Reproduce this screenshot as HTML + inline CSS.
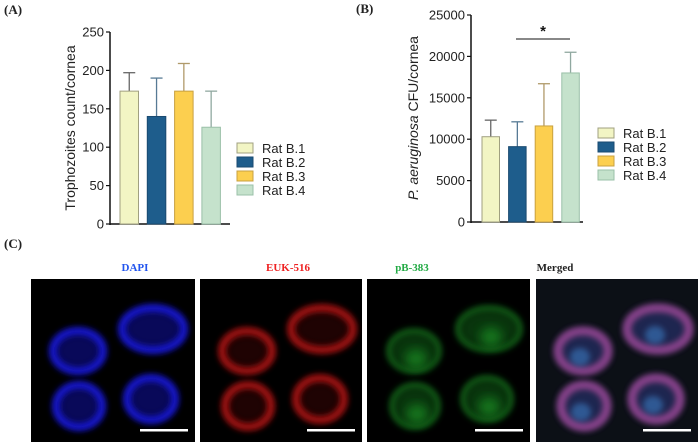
<!DOCTYPE html>
<html><head><meta charset="utf-8"><style>
body{margin:0;background:#fff;width:700px;height:442px;overflow:hidden;font-family:"Liberation Sans",sans-serif}
</style></head><body>
<svg width="700" height="442" viewBox="0 0 700 442" xmlns="http://www.w3.org/2000/svg">
<defs>
<filter id="bl" x="-30%" y="-30%" width="160%" height="160%"><feGaussianBlur stdDeviation="3"/></filter>
<filter id="bl2" x="-30%" y="-30%" width="160%" height="160%"><feGaussianBlur stdDeviation="5"/></filter>
</defs>
<g font-family="Liberation Serif, serif" font-weight="bold" font-size="13" fill="#222">
<text x="4" y="14">(A)</text>
<text x="356" y="13">(B)</text>
<text x="4" y="248">(C)</text>
</g>
<g id="chartA"></g>
<g id="chartB"></g>
<g font-family="Liberation Serif, serif" font-weight="bold" font-size="11" text-anchor="middle">
<text x="135" y="271" fill="#2255ee">DAPI</text>
<text x="288" y="271" fill="#ee2222">EUK-516</text>
<text x="412" y="271" fill="#22aa44">pB-383</text>
<text x="555" y="271" fill="#222">Merged</text>
</g>
<g id="imgs"></g>
</svg>
<script>
const catsA=["Rat B.1","Rat B.2","Rat B.3","Rat B.4"];
const meanA=[173,140,173,126];
const errA=[24,50,36,47];
const ticksA=[0,50,100,150,200,250];
const meanB=[10300,9100,11600,18000];
const errB=[2000,3000,5100,2500];
const ticksB=[0,5000,10000,15000,20000,25000];
const fills=["#f2f5c4","#1e5d8c","#fccf4f","#c5e2cc"];
const strokes=["#a0a080","#1a4a70","#c8a040","#9ac0a8"];
const errCol=["#666","#577a95","#b09a6a","#90a8a0"];
const NS="http://www.w3.org/2000/svg";
function mk(p,t,a){const e=document.createElementNS(NS,t);for(const k in a)e.setAttribute(k,a[k]);p.appendChild(e);return e;}
function chart(g,o){
 const y=v=>o.y0-(v/o.max)*(o.y0-o.y1);
 const ax=mk(g,'line',{x1:o.ax,y1:o.y1,x2:o.ax,y2:o.y0+1,stroke:'#111','stroke-width':1.5});
 
 const xa=mk(g,'line',{x1:o.ax,y1:o.y0,x2:o.xend,y2:o.y0,stroke:'#111','stroke-width':1.5});
 
 o.ticks.forEach(t=>{mk(g,'line',{x1:o.ax-4,y1:y(t),x2:o.ax,y2:y(t),stroke:'#111','stroke-width':1.2});
  const tx=mk(g,'text',{x:o.ax-6,y:y(t)+4.5,'text-anchor':'end','font-size':13,fill:'#222'});tx.textContent=t;
  });
 o.means.forEach((m,i)=>{const bx=o.bx0+i*o.step;const cx=bx+o.bw/2;
  const l=mk(g,'line',{x1:cx,y1:y(m),x2:cx,y2:y(m+o.errs[i]),stroke:errCol[i],'stroke-width':1.3});
  
  mk(g,'line',{x1:cx-6,y1:y(m+o.errs[i]),x2:cx+6,y2:y(m+o.errs[i]),stroke:errCol[i],'stroke-width':1.3});
  const r=mk(g,'rect',{x:bx,y:y(m),width:o.bw,height:o.y0-y(m),fill:fills[i],stroke:strokes[i],'stroke-width':1});
  
  const sw=mk(g,'rect',{x:o.lx,y:o.ly+i*14-5,width:16,height:10,fill:fills[i],stroke:strokes[i],'stroke-width':1});
  
  const lt=mk(g,'text',{x:o.lx+25,y:o.ly+i*14+5,'font-size':13,fill:'#222'});lt.textContent=catsA[i];
  });
 const yl=mk(g,'text',{x:o.ylx,y:o.yly,'text-anchor':'middle','font-size':14,fill:'#222',transform:`rotate(-90 ${o.ylx} ${o.yly})`});
 yl.innerHTML=o.ylab;
 return y;
}
chart(document.getElementById('chartA'),{ax:110,y0:224,y1:32,max:250,xend:230,ticks:ticksA,means:meanA,errs:errA,bx0:120,step:27.3,bw:18.5,lx:237,ly:148,ylx:75,yly:128,ylab:'Trophozoites count/cornea'});
const yB=chart(document.getElementById('chartB'),{ax:471,y0:222,y1:15,max:25000,xend:583,ticks:ticksB,means:meanB,errs:errB,bx0:482,step:26.6,bw:17.5,lx:598,ly:133,ylx:418,yly:118,ylab:'<tspan font-style="italic">P. aeruginosa</tspan> CFU/cornea'});
const gB=document.getElementById('chartB');
const sl=mk(gB,'line',{x1:516,y1:39,x2:570,y2:39,stroke:'#111','stroke-width':1});

const st=mk(gB,'text',{x:543,y:36,'text-anchor':'middle','font-size':15,'font-weight':'bold',fill:'#111'});st.textContent='*';

const panels=[{x:31,w:164,c:'#1a1aff',n:'dapi-image'},{x:200,w:162,c:'#cc1515',n:'euk-516-image'},{x:367,w:163,c:'#1a9a25',n:'pb-383-image'},{x:536,w:162,c:'merge',n:'merged-image'}];
const cells=[[47,72,29,24],[122,50,35,25],[48,127,27,25],[120,120,28,25]];
const IG=document.getElementById('imgs');
panels.forEach((p,pi)=>{
 const g=mk(IG,'g',{transform:`translate(${p.x},279)`});
 
 mk(g,'rect',{x:0,y:0,width:p.w,height:163,fill:pi==3?'#0c1016':'#000'});
 cells.forEach((c,ci)=>{
  if(p.c==='merge'){
   mk(g,'ellipse',{cx:c[0],cy:c[1],rx:c[2]-4,ry:c[3]-4,fill:'#3a4aa8',opacity:0.4,filter:'url(#bl2)'});
   mk(g,'ellipse',{cx:c[0],cy:c[1],rx:c[2]-4,ry:c[3]-4,fill:'none',stroke:'#9a4a9a','stroke-width':9,opacity:0.85,filter:'url(#bl)'});
   mk(g,'ellipse',{cx:c[0]-3,cy:c[1]+6,rx:10,ry:9,fill:'#3a7ac0',opacity:0.6,filter:'url(#bl)'});
  } else {
   const green=pi==2;
   mk(g,'ellipse',{cx:c[0],cy:c[1],rx:c[2]-4,ry:c[3]-4,fill:p.c,opacity:green?0.35:(pi==0?0.35:0.15),filter:'url(#bl2)'});
   mk(g,'ellipse',{cx:c[0],cy:c[1],rx:c[2]-4,ry:c[3]-4,fill:'none',stroke:p.c,'stroke-width':green?5:8,opacity:green?0.55:0.75,filter:'url(#bl)'});
   if(green) mk(g,'ellipse',{cx:c[0]+2,cy:c[1]+8,rx:11,ry:10,fill:p.c,opacity:0.6,filter:'url(#bl2)'});
  }
 });
 const sb=mk(g,'rect',{x:p.w-55,y:150,width:48,height:2.5,fill:'#fff'});
 
});
</script>
</body></html>
